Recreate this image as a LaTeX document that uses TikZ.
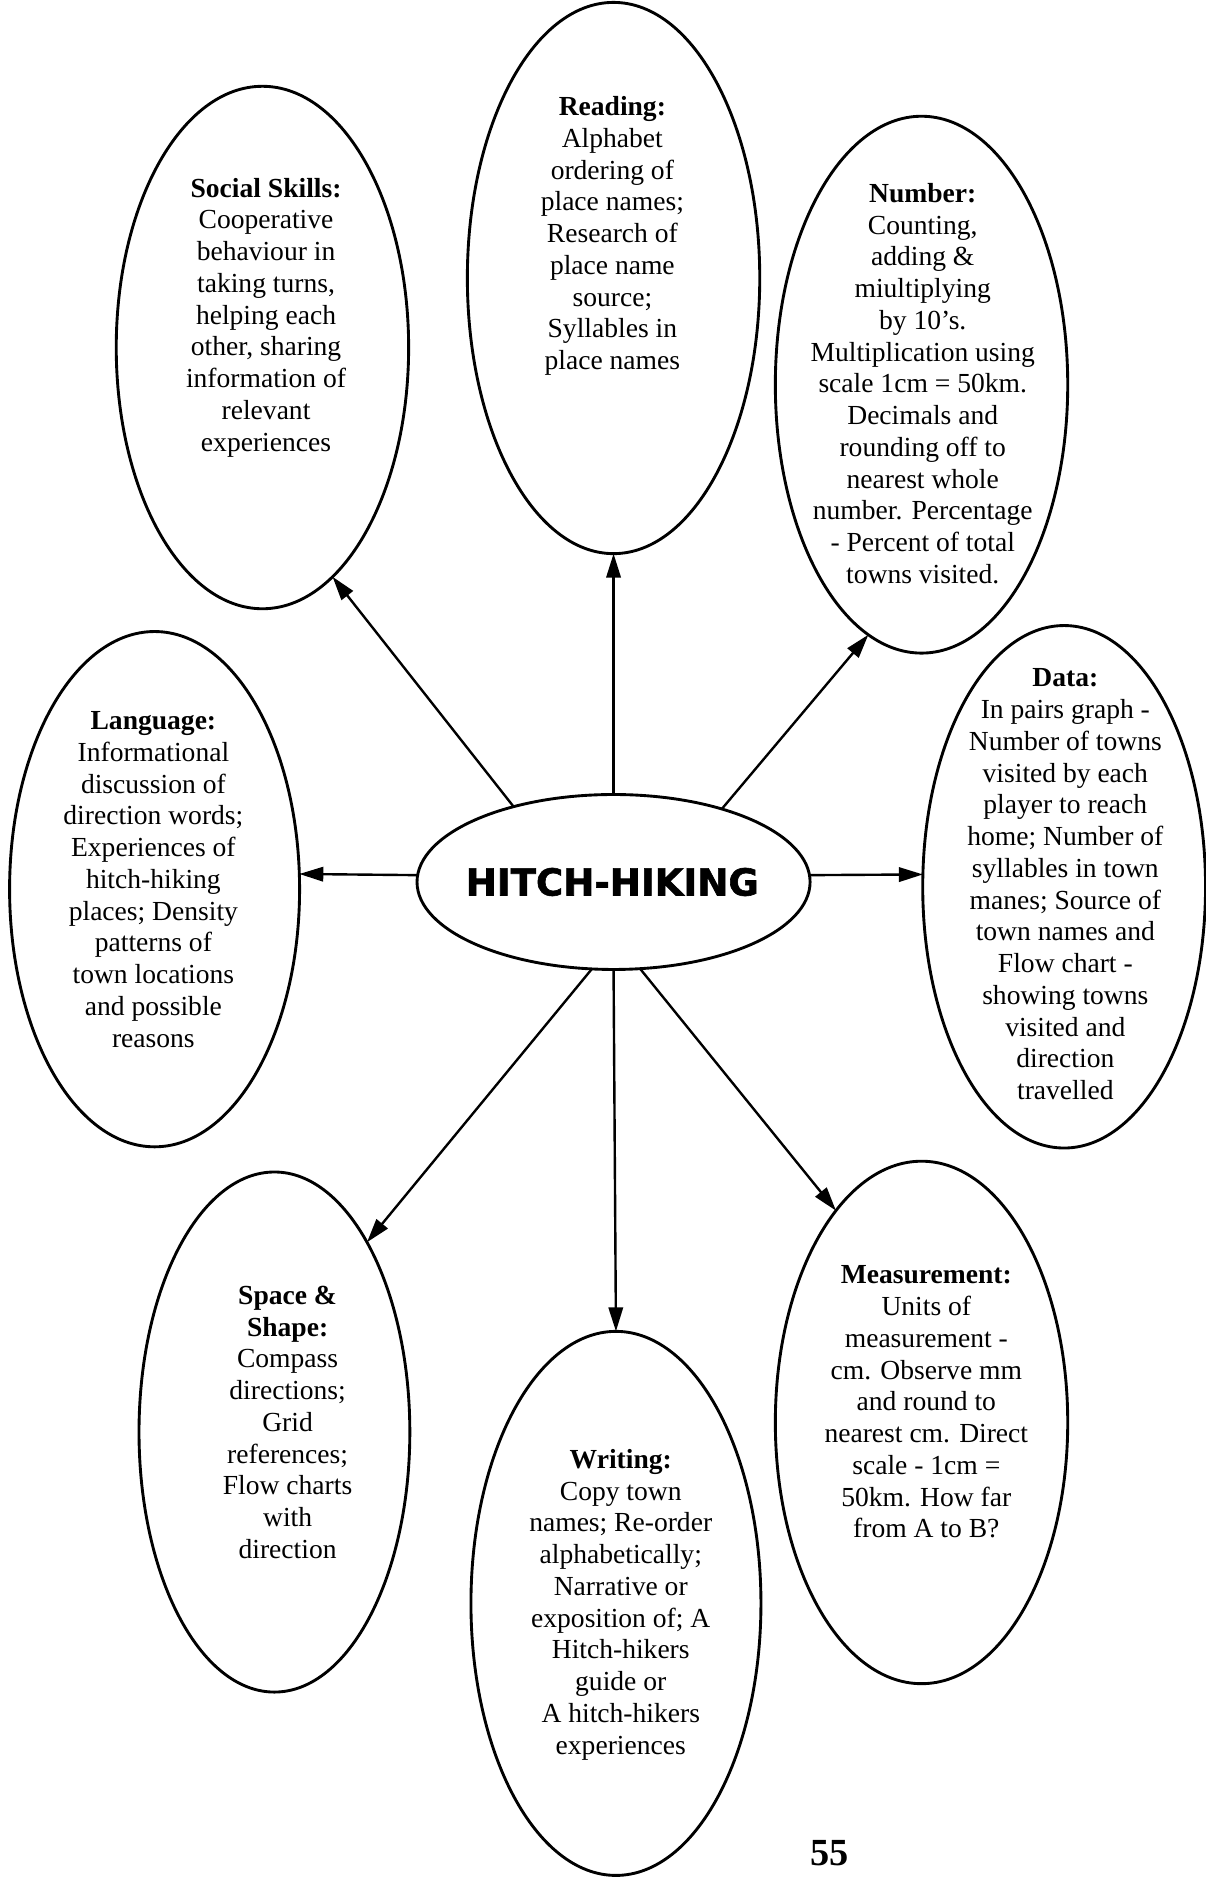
\documentclass[tikz,border=0pt]{standalone}
\usepackage{fontspec}
\setmainfont{Liberation Serif}
\newfontfamily\hhfont[FakeBold=1.6]{DejaVu Sans Bold}
\usetikzlibrary{shapes.geometric,arrows.meta}

\begin{document}
\begin{tikzpicture}[x=1pt,y=-1pt,
  bubble/.style={ellipse,draw,line width=2.4pt,inner sep=0pt,outer sep=0pt},
  topic/.style={align=center,inner sep=0pt,font=\fontsize{23}{26.5}\selectfont},
  link/.style={line width=2pt,-{Triangle[length=20pt,width=12pt]}},
]
\useasboundingbox (0,0) rectangle (1006,1568);

% outer topic bubbles
\node[bubble,minimum width=244pt,minimum height=436pt] (soc)  at (219,290) {};
\node[bubble,minimum width=244pt,minimum height=460pt] (rd)   at (512,232) {};
\node[bubble,minimum width=244pt,minimum height=448pt] (num)  at (769,321) {};
\node[bubble,minimum width=242pt,minimum height=430pt] (lang) at (129,742) {};
\node[bubble,minimum width=236pt,minimum height=436pt] (dat)  at (888,740) {};
\node[bubble,minimum width=226pt,minimum height=434pt] (spc)  at (229,1195) {};
\node[bubble,minimum width=242pt,minimum height=454pt] (wri)  at (514,1338) {};
\node[bubble,minimum width=244pt,minimum height=436pt] (mea)  at (769,1187) {};

% central bubble
\node[bubble,minimum width=328pt,minimum height=146pt] (hh) at (512,736) {};
\node[inner sep=0pt,font=\hhfont\fontsize{31}{31}\selectfont] (hht) at (511,736) {HITCH-HIKING};

% topic texts
\node[topic] (soct) at (222,265) {\textbf{Social Skills:}\\Cooperative\\behaviour in\\taking turns,\\helping each\\other, sharing\\information of\\relevant\\experiences};
\node[topic] (rdt) at (511,197) {\textbf{Reading:}\\Alphabet\\ordering of\\place names;\\Research of\\place name\\source;\\Syllables in\\place names};
\node[topic] (numt) at (770,320) {\textbf{Number:}\\Counting,\\adding \&\\miultiplying\\by 10's.\\Multiplication using\\scale 1cm = 50km.\\Decimals and\\rounding off to\\nearest whole\\number. Percentage\\- Percent of total\\towns visited.};
\node[topic] (langt) at (128,734) {\textbf{Language:}\\Informational\\discussion of\\direction words;\\Experiences of\\hitch-hiking\\places; Density\\patterns of\\town locations\\and possible\\reasons};
\node[topic] (datt) at (889,738) {\textbf{Data:}\\In pairs graph -\\Number of towns\\visited by each\\player to reach\\home; Number of\\syllables in town\\manes; Source of\\town names and\\Flow chart -\\showing towns\\visited and\\direction\\travelled};
\node[topic] (spct) at (240,1187) {\textbf{Space \&}\\\textbf{Shape:}\\Compass\\directions;\\Grid\\references;\\Flow charts\\with\\direction};
\node[topic] (writ) at (518,1339) {\textbf{Writing:}\\Copy town\\names; Re-order\\alphabetically;\\Narrative or\\exposition of; A\\Hitch-hikers\\guide or\\A hitch-hikers\\experiences};
\node[topic] (meat) at (773,1170) {\textbf{Measurement:}\\Units of\\measurement -\\cm. Observe mm\\and round to\\nearest cm. Direct\\scale - 1cm =\\50km. How far\\from A to B?};

% page number
\node[inner sep=0pt,font=\bfseries\fontsize{32}{32}\selectfont] (pg) at (692,1546) {55};

% connectors from the centre
\draw[link] (hh.143)  -- (soc.-73);
\draw[link] (hh.90)   -- (rd.-90);
\draw[link] (hh.34)   -- (num.-102);
\draw[link] (hh.178)  -- (lang.6);
\draw[link] (hh.2)    -- (dat.175);
\draw[link] (hh.-104) -- (spc.64);
\draw[link] (hh.-90)  -- (wri.90);
\draw[link] (hh.-73)  -- (mea.112);
\end{tikzpicture}
\end{document}
